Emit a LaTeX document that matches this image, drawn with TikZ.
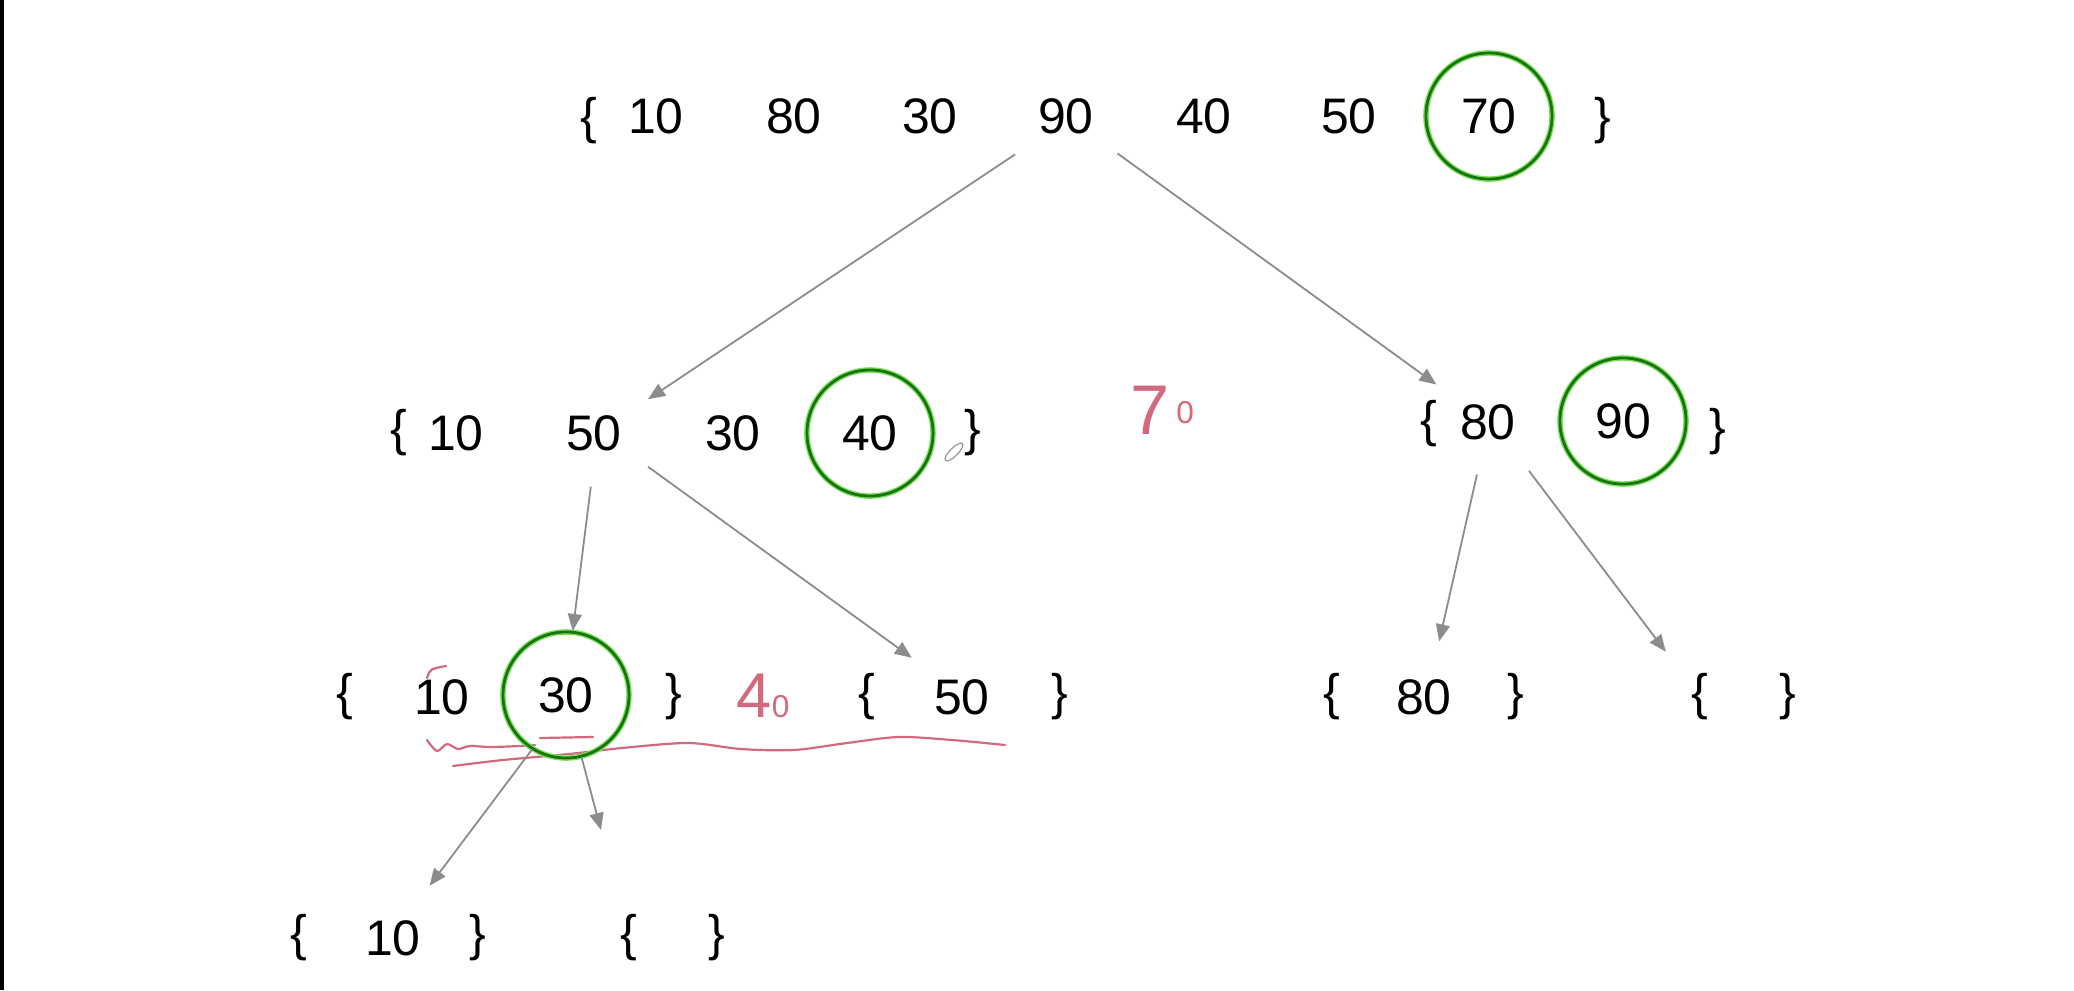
\documentclass[tikz,border=0pt]{standalone}
\usepackage{fontspec}
\setmainfont{Liberation Sans}
\usetikzlibrary{arrows.meta}
\definecolor{ringcore}{RGB}{25,115,15}
\definecolor{ringglow}{RGB}{120,225,90}
\definecolor{arrowgrey}{RGB}{140,140,140}
\definecolor{inkred}{RGB}{210,105,125}
\definecolor{pencilgrey}{RGB}{150,150,150}

\tikzset{
  num/.style={circle, minimum size=1.26cm, inner sep=0pt, font=\fontsize{14.2}{17}\selectfont},
  pivot/.style={num, draw=ringcore, line width=0.028cm, preaction={draw=ringglow, line width=0.055cm}},
  split/.style={draw=arrowgrey, line width=0.018cm, -{Triangle[length=0.17cm,width=0.14cm]}},
  ink/.style={draw=inkred, line width=0.022cm, line cap=round, line join=round},
  scrawl/.style={text=inkred, inner sep=0pt},
}

\begin{document}
\begin{tikzpicture}[x=0.01cm, y=-0.01cm]
      \useasboundingbox (0,0) rectangle (2074,990);
      \fill[white] (0,0) rectangle (2074,990);
      \fill[black] (0,0) rectangle (4,990);

      % pen marks under the third row
      \draw[ink] plot[smooth] coordinates {(427,740) (437,751) (447,744) (458,749) (470,746) (490,747) (520,746) (535,745)};
      \draw[ink] (540,738) -- (593,737);
      \draw[ink] plot[smooth] coordinates {(453,766) (503,760) (569,754) (622,748) (688,743) (741,749) (794,750) (847,743) (899,737) (952,740) (1005,745)};
      \draw[ink] (427,678) .. controls (430,669) .. (446,666);
      \draw[pencilgrey, line width=0.012cm, rotate around={45:(954,452)}] (954,452) ellipse [x radius=12, y radius=4];

      % whole list
      \node[num] (tl) at (589,121) {\{};
      \node[num] (t10) at (656,116) {10};
      \node[num] (t80) at (794,116) {80};
      \node[num] (t30) at (930,116) {30};
      \node[num] (t90) at (1066,116) {90};
      \node[num] (t40) at (1204,116) {40};
      \node[num] (t50) at (1349,116) {50};
      \node[pivot] (t70) at (1489,116) {70};
      \node[num] (tr) at (1603,121) {\}};

      % left part
      \node[num] (ll) at (399,433) {\{};
      \node[num] (l10) at (456,433) {10};
      \node[num] (l50) at (594,433) {50};
      \node[num] (l30) at (733,433) {30};
      \node[pivot] (l40) at (870,433) {40};
      \node[num] (lr) at (973,433) {\}};

      % right part
      \node[num] (rl) at (1429,424) {\{};
      \node[num] (r80) at (1488,422) {80};
      \node[pivot] (r90) at (1623,421) {90};
      \node[num] (rr) at (1718,432) {\}};

      \node[scrawl] (h70) at (1162,410) {\fontsize{20}{20}\selectfont 7\hspace{2pt}\raisebox{3pt}{\fontsize{9}{9}\selectfont 0}};

      % third row
      \node[num] (al) at (345,697) {\{};
      \node[num] (a10) at (442,697) {10};
      \node[pivot] (a30) at (566,695) {30};
      \node[num] (ar) at (674,697) {\}};
      \node[scrawl] (h40) at (763,696) {\fontsize{18}{18}\selectfont 4{\fontsize{9}{9}\selectfont 0}};
      \node[num] (bl) at (867,697) {\{};
      \node[num] (b50) at (962,697) {50};
      \node[num] (br) at (1060,697) {\}};
      \node[num] (cl) at (1332,697) {\{};
      \node[num] (c80) at (1424,697) {80};
      \node[num] (cr) at (1516,697) {\}};
      \node[num] (dl) at (1700,697) {\{};
      \node[num] (dr) at (1788,697) {\}};

      % last row
      \node[num] (el) at (299,938) {\{};
      \node[num] (e10) at (393,938) {10};
      \node[num] (er) at (478,938) {\}};
      \node[num] (fl) at (629,938) {\{};
      \node[num] (fr) at (717,938) {\}};
      \coordinate (gap) at (601,830);

      \draw[split] (t90.217) -- (l50.32);
      \draw[split] (t90.324) -- (r80.144);
      \draw[split, shorten <=-0.1cm] (l50.266) -- (a30.84);
      \draw[split] (l50.328) -- (b50.142);
      \draw[split, shorten <=-0.1cm, shorten >=-0.06cm] (r80.258) -- (c80.75);
      \draw[split, shorten >=-0.07cm] (r80.310) -- (dl);
      \draw[split] (a30.238) -- (e10.55);
      \draw[split] (a30.284) -- (gap);
    \end{tikzpicture}
\end{document}
